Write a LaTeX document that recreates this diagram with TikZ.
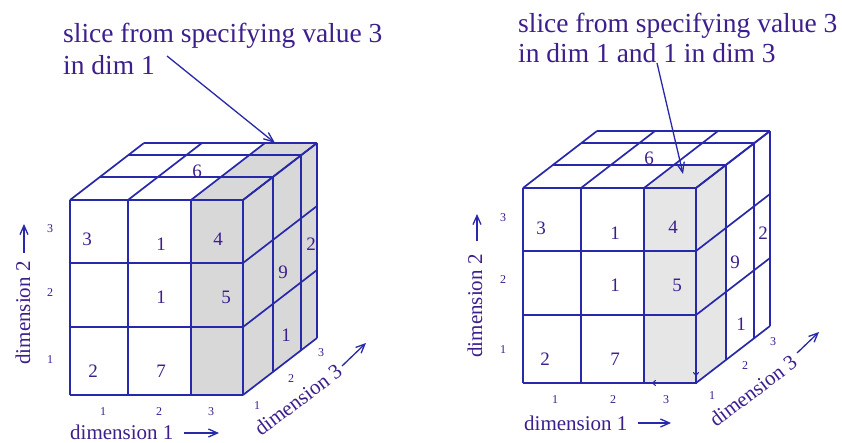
\documentclass[tikz,border=0pt]{standalone}
\usepackage{fontspec}
\setmainfont{Liberation Serif}
\usetikzlibrary{arrows.meta}
\definecolor{lc}{RGB}{40,40,170}
\definecolor{tc}{RGB}{60,30,140}
\definecolor{shadeA}{RGB}{216,216,216}
\definecolor{shadeB}{RGB}{230,230,230}
\tikzset{
  cl/.style={draw=lc, line width=1.7pt, line join=miter},
  cellnum/.style={text=tc, inner sep=0pt, font=\fontsize{19}{19}\selectfont},
  ticknum/.style={text=tc, inner sep=0pt, font=\fontsize{12}{12}\selectfont},
  axislab/.style={text=tc, inner sep=0pt, font=\fontsize{21}{21}\selectfont},
  caption/.style={text=tc, inner sep=0pt, anchor=base west, font=\fontsize{27.5}{32}\selectfont},
  axarrow/.style={draw=lc, line width=1.3pt, -{Straight Barb[length=9pt,width=8pt]}},
  callout/.style={draw=lc, line width=1.3pt, -{Straight Barb[length=10pt,width=8pt]}},
}
\begin{document}
\begin{tikzpicture}[x=1pt,y=-1pt]
\useasboundingbox (0,0) rectangle (842,443);
\fill[white] (0,0) rectangle (842,443);

% ---------------- left cube ----------------
\begin{scope}[shift={(70,200)}]
  % shading: slice value 3 in dim 1
  \fill[shadeA] (121,0) rectangle (173,195);
  \fill[shadeA] (121,0) -- (173,0) -- (247,-57) -- (195,-57) -- cycle;
  \fill[shadeA] (173,0) -- (247,-57) -- (247,138) -- (173,195) -- cycle;
  % front grid
  \foreach \c in {0,58,121,173} \draw[cl] (\c,0) -- (\c,195);
  \foreach \r in {0,63,127,195} \draw[cl] (0,\r) -- (173,\r);
  % top face
  \foreach \c in {0,58,121,173} \draw[cl] (\c,0) -- ++(74,-57);
  \foreach \dx/\dy in {30/23,58/45,74/57} \draw[cl] (\dx,-\dy) -- ++(173,0);
  % side face
  \foreach \r in {0,63,127,195} \draw[cl] (173,\r) -- ++(74,-57);
  \foreach \dx/\dy in {30/23,58/45,74/57} \draw[cl] (173+\dx,-\dy) -- ++(0,195);
\end{scope}
% numbers left
\node[cellnum] (l3) at (87,239) {3};
\node[cellnum] (l1a) at (161,244) {1};
\node[cellnum] (l4) at (218,239) {4};
\node[cellnum] (l1b) at (161,297) {1};
\node[cellnum] (l5) at (226,297) {5};
\node[cellnum] (l2) at (93,371) {2};
\node[cellnum] (l7) at (161,371) {7};
\node[cellnum] (l9) at (283,272) {9};
\node[cellnum] (l2s) at (311,244) {2};
\node[cellnum] (l1s) at (286,335) {1};
\node[cellnum] (l6) at (197,171) {6};
% ticks left
\node[ticknum] (lx1) at (103,412) {1};
\node[ticknum] (lx2) at (159,412) {2};
\node[ticknum] (lx3) at (211,412) {3};
\node[ticknum] (ly3) at (50,229) {3};
\node[ticknum] (ly2) at (50,293) {2};
\node[ticknum] (ly1) at (50,360) {1};
\node[ticknum] (lz1) at (257,406) {1};
\node[ticknum] (lz2) at (291,379) {2};
\node[ticknum] (lz3) at (321,353) {3};
% axis labels left
\node[axislab, anchor=west] (ldim1) at (70,432) {dimension 1};
\coordinate (ld1a) at (184,433);
\coordinate (ld1b) at (219,433);
\draw[axarrow] (ld1a) -- (ld1b);
\node[axislab, rotate=90] (ldim2) at (23,313) {dimension 2};
\coordinate (ld2a) at (24,253);
\coordinate (ld2b) at (24,224);
\draw[axarrow] (ld2a) -- (ld2b);
\node[axislab, rotate=37] (ldim3) at (298,400) {dimension 3};
\coordinate (ld3a) at (342,366);
\coordinate (ld3b) at (366,343);
\draw[axarrow] (ld3a) -- (ld3b);
% caption left
\node[caption] (lcap1) at (63,43) {slice from specifying value 3};
\node[caption] (lcap2) at (63,75) {in dim 1};
\coordinate (lca) at (167,56);
\coordinate (lcb) at (275,143);
\draw[callout] (lca) -- (lcb);

% ---------------- right cube ----------------
\begin{scope}[shift={(523,188)}]
  \fill[shadeB] (121,0) rectangle (173,195);
  \fill[shadeB] (121,0) -- (173,0) -- (203,-23) -- (151,-23) -- cycle;
  \fill[shadeB] (173,0) -- (203,-23) -- (203,172) -- (173,195) -- cycle;
  \foreach \c in {0,58,121,173} \draw[cl] (\c,0) -- (\c,195);
  \foreach \r in {0,63,127,195} \draw[cl] (0,\r) -- (173,\r);
  \foreach \c in {0,58,121,173} \draw[cl] (\c,0) -- ++(74,-57);
  \foreach \dx/\dy in {30/23,58/45,74/57} \draw[cl] (\dx,-\dy) -- ++(173,0);
  \foreach \r in {0,63,127,195} \draw[cl] (173,\r) -- ++(74,-57);
  \foreach \dx/\dy in {30/23,58/45,74/57} \draw[cl] (173+\dx,-\dy) -- ++(0,195);
  % slice outline emphasised
  \draw[draw=lc, line width=2.3pt] (121,0) -- (121,195) -- (173,195) -- (173,0);
  \coordinate (rsa) at (160,195);
  \coordinate (rsb) at (129,195);
  \draw[draw=lc, line width=1pt, -{To[length=4pt,width=6pt]}] (rsa) -- (rsb);
  \coordinate (rsc) at (173,170);
  \coordinate (rsd) at (173,188);
  \draw[draw=lc, line width=1pt, -{To[length=4pt,width=6pt]}] (rsc) -- (rsd);
\end{scope}
% numbers right
\node[cellnum] (r3) at (541,228) {3};
\node[cellnum] (r1a) at (615,233) {1};
\node[cellnum] (r4) at (673,227) {4};
\node[cellnum] (r1b) at (615,285) {1};
\node[cellnum] (r5) at (677,285) {5};
\node[cellnum] (r2) at (545,359) {2};
\node[cellnum] (r7) at (615,359) {7};
\node[cellnum] (r9) at (735,262) {9};
\node[cellnum] (r2s) at (763,233) {2};
\node[cellnum] (r1s) at (741,324) {1};
\node[cellnum] (r6) at (649,158) {6};
% ticks right
\node[ticknum] (rx1) at (555,400) {1};
\node[ticknum] (rx2) at (613,400) {2};
\node[ticknum] (rx3) at (666,400) {3};
\node[ticknum] (ry3) at (503,218) {3};
\node[ticknum] (ry2) at (503,280) {2};
\node[ticknum] (ry1) at (503,350) {1};
\node[ticknum] (rz1) at (712,396) {1};
\node[ticknum] (rz2) at (745,366) {2};
\node[ticknum] (rz3) at (773,342) {3};
% axis labels right
\node[axislab, anchor=west] (rdim1) at (524,423) {dimension 1};
\coordinate (rd1a) at (638,423);
\coordinate (rd1b) at (671,423);
\draw[axarrow] (rd1a) -- (rd1b);
\node[axislab, rotate=90] (rdim2) at (475,306) {dimension 2};
\coordinate (rd2a) at (477,241);
\coordinate (rd2b) at (477,214);
\draw[axarrow] (rd2a) -- (rd2b);
\node[axislab, rotate=37] (rdim3) at (753,391) {dimension 3};
\coordinate (rd3a) at (797,353);
\coordinate (rd3b) at (819,332);
\draw[axarrow] (rd3a) -- (rd3b);
% caption right
\node[caption] (rcap1) at (518,33) {slice from specifying value 3};
\node[caption] (rcap2) at (518,63) {in dim 1 and 1 in dim 3};
\coordinate (rca) at (657,63);
\coordinate (rcb) at (683,174);
\draw[callout] (rca) -- (rcb);
\end{tikzpicture}
\end{document}
